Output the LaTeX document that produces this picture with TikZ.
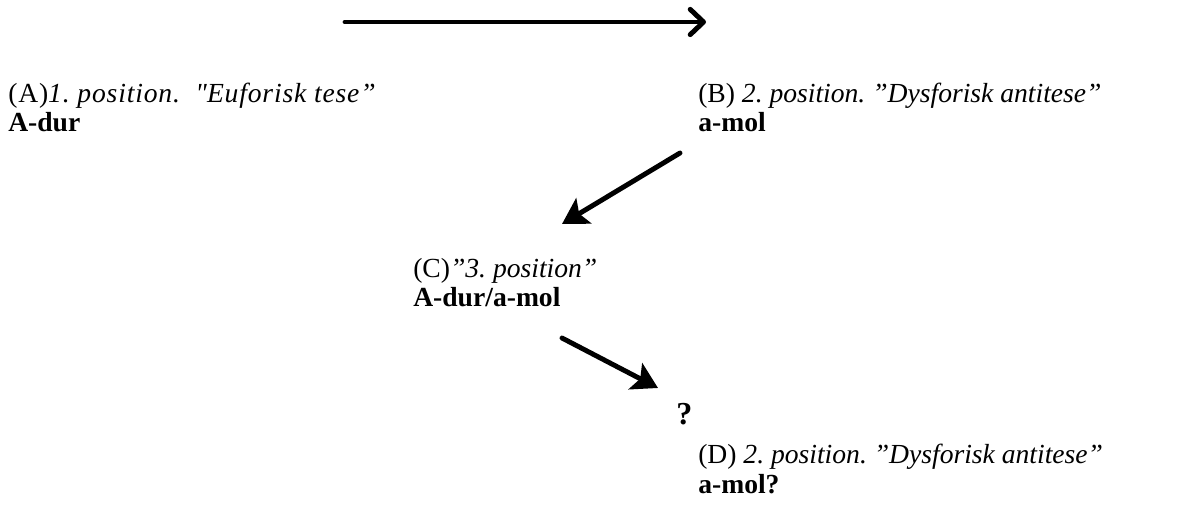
\documentclass[tikz,border=0pt]{standalone}
\usepackage{fontspec}
\setmainfont{Liberation Serif}
\usepackage{tikz}
\usetikzlibrary{arrows.meta, positioning}
\frenchspacing
\tikzset{
  postext/.style   = {anchor=base west, align=left, inner sep=0pt,
                      font=\fontsize{20.7}{22}\selectfont},
  askmark/.style   = {anchor=base west, inner sep=0pt,
                      font=\fontsize{24}{24}\selectfont\bfseries},
  timearrow/.style = {line width=3.7pt, line cap=round, line join=round,
                      -{Straight Barb[length=10pt, width=19pt, line cap=round, line join=round]}},
  steparrow/.style = {line width=3.7pt, line cap=round,
                      -{Stealth[length=19pt, width=22pt, inset=4pt]}},
}
\begin{document}
\begin{tikzpicture}[x=0.75pt, y=-0.75pt]
  \useasboundingbox (0,0) rectangle (1180,505);
  \coordinate (ts) at (345,22);
  \coordinate (te) at (706,22);
  \coordinate (bs) at (680,153);
  \coordinate (be) at (562,224);
  \coordinate (cs) at (562,338);
  \coordinate (ce) at (658,388);
  \node[postext] (posA) at (8,132) {{\addfontfeatures{LetterSpace=3}(A)\textit{1. position.\ \ \textquotedbl Euforisk tese”}}\\ \textbf{A-dur}};
  \node[postext] (posB) at (698,132) {(B) \textit{2. position. ”Dysforisk antitese”}\\ \textbf{a-mol}};
  \node[postext] (posC) at (413,307) {(C)\textit{”3. position”}\\ \textbf{A-dur/a-mol}};
  \node[askmark] (ask) at (676,424) {?};
  \node[postext] (posD) at (698,493) {(D) \textit{2. position. ”Dysforisk antitese”}\\ \textbf{a-mol?}};
  \draw[timearrow] (ts) -- (te);
  \draw[steparrow] (bs) -- (be);
  \draw[steparrow] (cs) -- (ce);
\end{tikzpicture}
\end{document}
